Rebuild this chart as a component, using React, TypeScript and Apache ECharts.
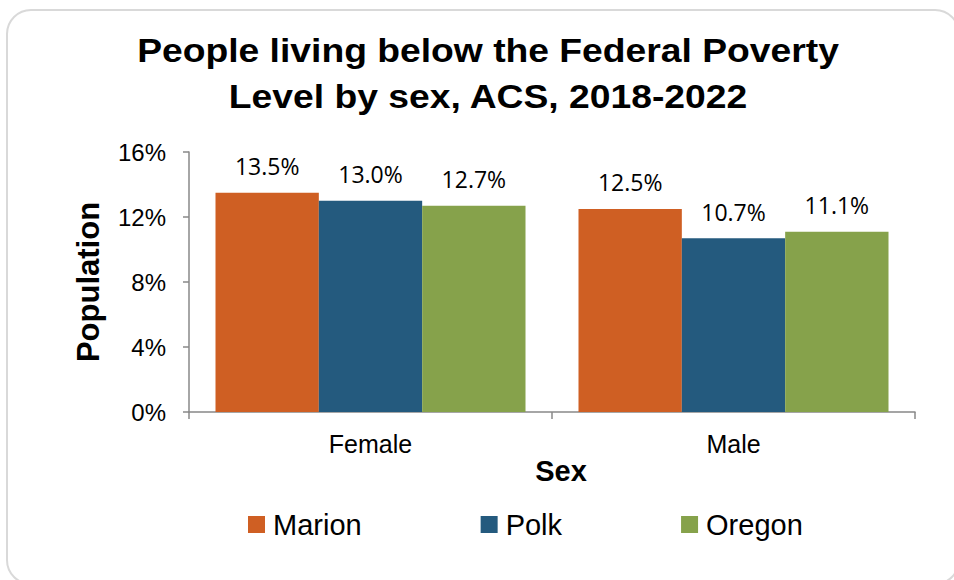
import React, { useEffect, useRef } from "react";
import * as echarts from "echarts";

const categories = ["Female", "Male"];
const seriesNames = ["Marion", "Polk", "Oregon"];
const marion = [13.5, 12.5];
const polk = [13.0, 10.7];
const oregon = [12.7, 11.1];
const yTicks = [0, 4, 8, 12, 16];
const titleLines = ["People living below the Federal Poverty", "Level by sex, ACS, 2018-2022"];
const colors = ["#CF5F23", "#245A7E", "#86A24B"];

const SANS = "'Liberation Sans', Arial, Helvetica, sans-serif";

export default function App() {
  const ref = useRef<HTMLDivElement>(null);
  useEffect(() => {
    document.body.style.margin = "0";
    const chart = echarts.init(ref.current!, null, { renderer: "svg" });
    const data = [marion, polk, oregon];
    chart.setOption({
      animation: false,
      backgroundColor: "#ffffff",
      graphic: [
        {
          type: "rect",
          shape: { x: 7, y: 10, width: 952, height: 574, r: 24 },
          style: { fill: "none", stroke: "#d9d9d9", lineWidth: 2 },
          silent: true,
          z: -10,
        },
        ...titleLines.map((t, i) => ({
          type: "text",
          x: 488,
          y: i === 0 ? 51 : 97,
          scaleX: 1.096,
          style: {
            text: t,
            font: `bold 34px ${SANS}`,
            fill: "#000",
            align: "center",
            verticalAlign: "middle",
          },
        })),
      ],
      grid: { left: 189, right: 39, top: 152, bottom: 168, containLabel: false },
      legend: {
        data: seriesNames,
        left: 243,
        top: 505,
        itemWidth: 17,
        itemHeight: 17,
        itemGap: 119,
        icon: "rect",
        textStyle: { fontFamily: SANS, fontSize: 29, color: "#000", padding: [0, 0, 0, 3] },
      },
      xAxis: {
        type: "category",
        data: categories,
        name: "Sex",
        nameLocation: "middle",
        nameGap: 43,
        nameTextStyle: {
          fontFamily: SANS,
          fontSize: 29,
          fontWeight: "bold",
          color: "#000",
          padding: [0, 0, 0, 18],
        },
        axisLine: { lineStyle: { color: "#888888", width: 1.5 } },
        axisTick: { show: true, length: 7, lineStyle: { color: "#888888", width: 1.5 } },
        axisLabel: {
          margin: 19,
          fontFamily: SANS,
          fontSize: 25,
          color: "#000",
        },
      },
      yAxis: {
        type: "value",
        min: 0,
        max: 16,
        interval: 4,
        name: "Population",
        nameLocation: "middle",
        nameGap: 85,
        nameTextStyle: {
          fontFamily: SANS,
          fontSize: 31,
          fontWeight: "bold",
          color: "#000",
        },
        axisLine: { show: true, lineStyle: { color: "#888888", width: 1.5 } },
        axisTick: { show: true, length: 6, lineStyle: { color: "#888888", width: 1.5 } },
        splitLine: { show: false },
        axisLabel: {
          margin: 23,
          fontFamily: SANS,
          fontSize: 24,
          color: "#000",
          formatter: (v: number) => (yTicks.includes(v) ? v + "%" : ""),
        },
      },
      series: seriesNames.map((name, i) => ({
        name,
        type: "bar",
        data: data[i],
        barGap: "0%",
        barCategoryGap: "14.6%",
        itemStyle: { color: colors[i] },
        label: {
          show: true,
          position: "top",
          distance: 15,
          formatter: (p: any) => p.value.toFixed(1) + "%",
          fontFamily: "'Open Sans', sans-serif",
          fontSize: 23,
          color: "#000",
        },
      })),
    });
    return () => chart.dispose();
  }, []);
  return <div ref={ref} style={{ width: 954, height: 580 }} />;
}
